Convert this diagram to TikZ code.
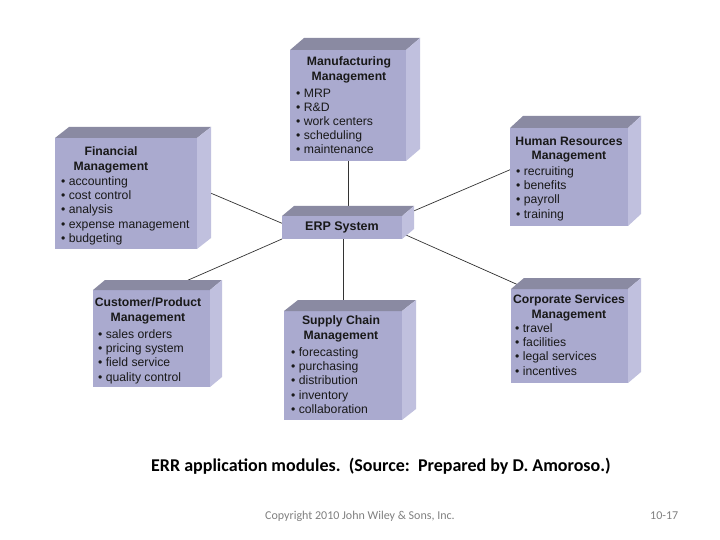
\documentclass[tikz,border=0pt]{standalone}
\usepackage{fontspec}
\setmainfont{Liberation Sans}
\newfontfamily\capfont{Carlito}
\usetikzlibrary{calc,backgrounds}
\definecolor{frontc}{RGB}{170,170,207}
\definecolor{topc}{RGB}{138,138,162}
\definecolor{sidec}{RGB}{192,192,222}
\definecolor{txtc}{RGB}{25,25,25}
\tikzset{
 front/.style={fill=frontc, draw=none, anchor=north west, inner sep=0pt, outer sep=0pt},
 head/.style={font=\fontsize{12.2}{14.5}\selectfont\bfseries, text=txtc, align=center, anchor=north, inner sep=0pt},
 items/.style={font=\fontsize{12.2}{14.2}\selectfont, text=txtc, align=left, anchor=north west, inner sep=0pt},
 link/.style={draw=black!80, line width=0.7pt},
 foot/.style={anchor=base west, inner sep=0pt, font=\capfont\fontsize{12}{14}\selectfont, text=black!50},
}
\newcommand\cubefaces[3]{%
 \fill[topc] (#1.north west) -- ++(#2,-#3) -- ($(#1.north east)+(#2,-#3)$) -- (#1.north east) -- cycle;
 \fill[sidec] (#1.north east) -- ++(#2,-#3) -- ($(#1.south east)+(#2,-#3)$) -- (#1.south east) -- cycle;}
\begin{document}
\begin{tikzpicture}[x=1pt,y=-1pt]
\useasboundingbox (0,0) rectangle (720,540);
% front faces
\node[front, minimum width=116pt, minimum height=111pt] (mf) at (290,50) {};
\node[front, minimum width=142pt, minimum height=111pt] (fin) at (55,138) {};
\node[front, minimum width=118pt, minimum height=98pt] (hr) at (510,128) {};
\node[front, minimum width=120pt, minimum height=23pt, font=\fontsize{12.5}{14}\selectfont\bfseries, text=txtc] (erp) at (282,216) {ERP System};
\node[front, minimum width=117pt, minimum height=97pt] (cp) at (93,290) {};
\node[front, minimum width=118pt, minimum height=109pt] (sc) at (284,311) {};
\node[front, minimum width=117pt, minimum height=94pt] (cs) at (511,289) {};
\cubefaces{mf}{14}{12}
\cubefaces{fin}{14}{11}
\cubefaces{hr}{13}{12}
\cubefaces{erp}{12}{10}
\cubefaces{cp}{12}{10}
\cubefaces{sc}{14}{11}
\cubefaces{cs}{13}{11}
% texts
\node[head] (mfh) at (349,56.5) {Manufacturing\\Management};
\node[items] (mfi) at (296,88.5) {• MRP\\• R\&D\\• work centers\\• scheduling\\• maintenance};
\node[head] (finh) at (111,146.5) {Financial\\Management};
\node[items] (fini) at (61,176.5) {• accounting\\• cost control\\• analysis\\• expense management\\• budgeting};
\node[head] (hrh) at (569,136.5) {Human Resources\\Management};
\node[items] (hri) at (516,166.5) {• recruiting\\• benefits\\• payroll\\• training};
\node[head] (cph) at (148,297.5) {Customer/Product\\Management};
\node[items] (cpi) at (98,329.5) {• sales orders\\• pricing system\\• field service\\• quality control};
\node[head] (sch) at (341,315.5) {Supply Chain\\Management};
\node[items] (sci) at (291,347.5) {• forecasting\\• purchasing\\• distribution\\• inventory\\• collaboration};
\node[head] (csh) at (569,294.5) {Corporate Services\\Management};
\node[items] (csi) at (515,323.5) {• travel\\• facilities\\• legal services\\• incentives};
% caption and footer
\node[anchor=base west, inner sep=0pt, font=\capfont\bfseries\fontsize{18}{21}\selectfont, text=black] (cap) at (151,471) {ERR application modules.\ \ (Source:\ \ Prepared by D. Amoroso.)};
\node[foot] (copy) at (265,519) {Copyright 2010 John Wiley \& Sons, Inc.};
\node[foot] (pg) at (650,519) {10-17};
% connectors
\begin{scope}[on background layer]
\fill[white] (0,0) rectangle (720,540);
\draw[link] (mf.south) -- (mf.south |- erp.north);
\draw[link] (sc.north) -- (sc.north |- erp.south);
\draw[link] (fin.5) -- (erp.176);
\draw[link] (hr.173) -- (erp.north east);
\draw[link] (erp.south west) -- ($(cp.north west)!0.62!(cp.north east)$);
\draw[link] ($(erp.east)!0.5!(erp.south east)$) -- ($(cs.north west)!0.14!(cs.north east)$);
\end{scope}
\end{tikzpicture}
\end{document}
